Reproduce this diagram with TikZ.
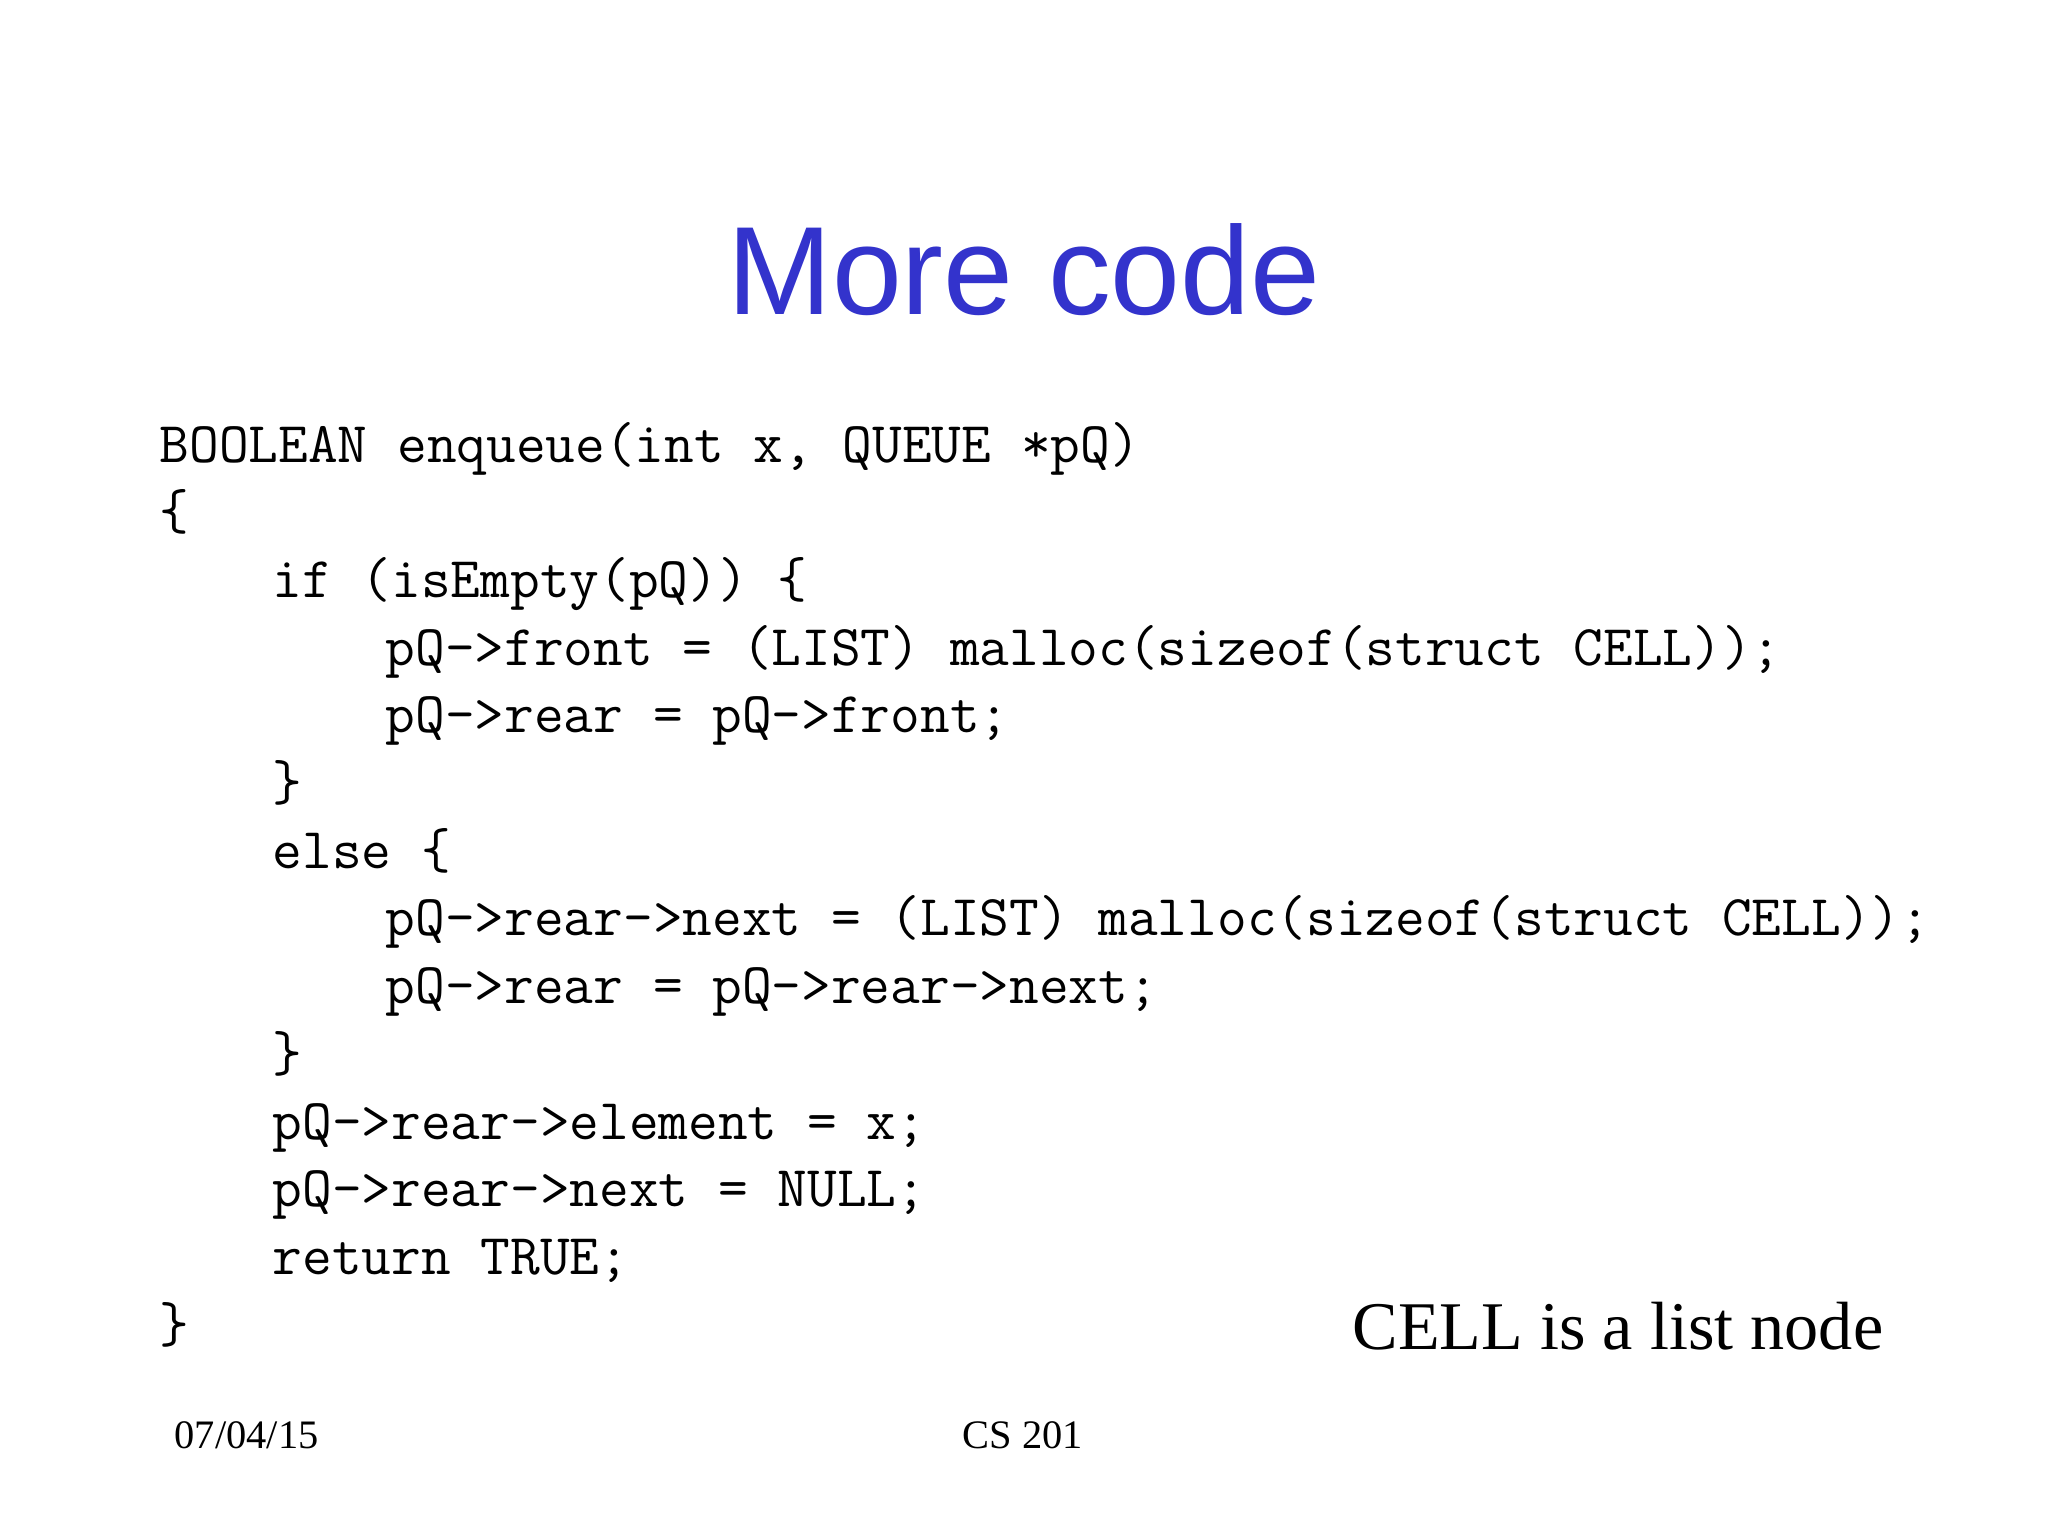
\documentclass[tikz,border=0pt]{standalone}
\usepackage{fontspec}
\setmainfont{Liberation Serif}
\newfontfamily\titlefont{Liberation Sans}
\definecolor{titleblue}{HTML}{3333CC}
\begin{document}
\begin{tikzpicture}[x=0.01cm,y=-0.01cm,
  codeline/.style={anchor=base west,inner sep=0,font=\fontsize{16.4}{18}\ttfamily},
  foot/.style={anchor=base,inner sep=0,font=\fontsize{11.5}{13}\selectfont}]
\useasboundingbox (0,0) rectangle (2048,1536);
\node[font=\fontsize{35.7}{42}\titlefont,text=titleblue,anchor=base,inner sep=0] (title) at (1024,314) {More code};
\foreach \ind/\t [count=\i] in {
 0/{BOOLEAN enqueue(int x, QUEUE *pQ)},
 0/{\{},
 1/{if (isEmpty(pQ)) \{},
 2/{pQ->front = (LIST) malloc(sizeof(struct CELL));},
 2/{pQ->rear = pQ->front;},
 1/{\}},
 1/{else \{},
 2/{pQ->rear->next = (LIST) malloc(sizeof(struct CELL));},
 2/{pQ->rear = pQ->rear->next;},
 1/{\}},
 1/{pQ->rear->element = x;},
 1/{pQ->rear->next = NULL;},
 1/{return TRUE;},
 0/{\}}}
 \node[codeline] (c\i) at ({159+\ind*113},{462+(\i-1)*67.7}) {\t};
\node[anchor=base west,inner sep=0,font=\fontsize{19.4}{23}\selectfont] (cell) at (1352,1349) {CELL is a list node};
\node[foot,anchor=base west] (date) at (174,1448) {07/04/15};
\node[foot] (cs) at (1023,1448) {CS 201};
\end{tikzpicture}
\end{document}
